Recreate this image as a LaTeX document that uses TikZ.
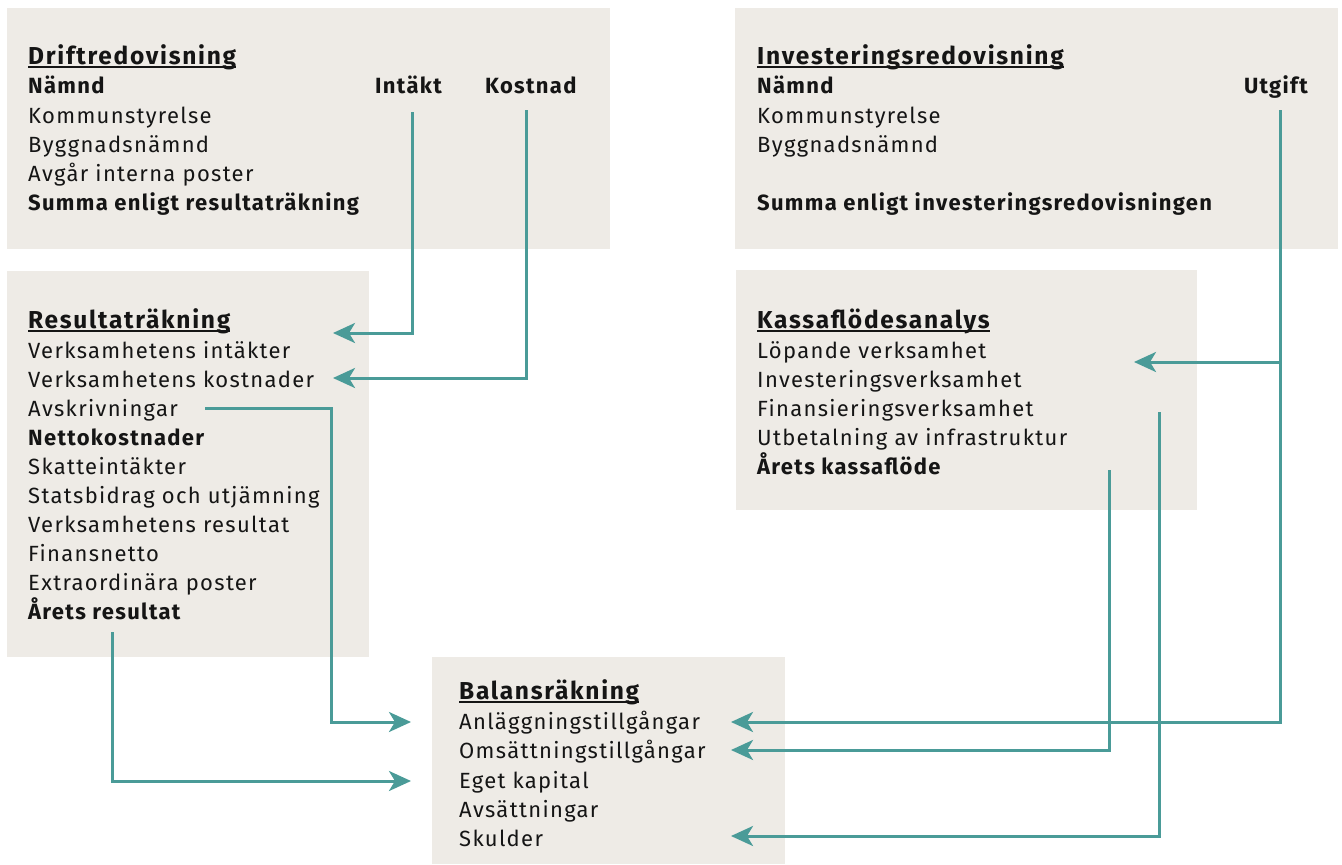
\documentclass[tikz,border=0pt]{standalone}
\usepackage{fontspec}
\setmainfont{Fira Sans}[LetterSpace=6]
\usetikzlibrary{arrows.meta}
\definecolor{boxbg}{HTML}{EEEBE6}
\definecolor{tealline}{HTML}{4A9B98}
\definecolor{ink}{HTML}{151515}
\tikzset{
  panel/.style={fill=boxbg, draw=none},
  row/.style={anchor=base west, inner sep=0pt, text=ink, font=\fontsize{22}{26}\selectfont},
  brow/.style={row, font=\fontsize{22}{26}\selectfont\bfseries},
  ttl/.style={row, font=\fontsize{24.5}{28}\selectfont\bfseries\addfontfeature{LetterSpace=7}},
  uline/.style={draw=ink, line width=2pt},
  conn/.style={draw=tealline, line width=3pt, -{Stealth[length=22pt,width=20pt,inset=6pt]}}
}
\begin{document}
\begin{tikzpicture}[x=1pt,y=-1pt]
\useasboundingbox (0,0) rectangle (1342,865);
% panels
\fill[panel] (7,8) rectangle (610,249);
\fill[panel] (735,8) rectangle (1338,249);
\fill[panel] (7,271) rectangle (369,657);
\fill[panel] (736,270) rectangle (1197,510);
\fill[panel] (432,657) rectangle (785,864);

% Driftredovisning
\node[ttl] (dT) at (28,64) {Driftredovisning};
\draw[uline] ([yshift=-3pt]dT.base west) -- ([yshift=-3pt]dT.base east);
\node[brow] (dNamnd) at (28,93) {Nämnd};
\node[brow] (dIntakt) at (375,93) {Intäkt};
\node[brow] (dKostnad) at (485,93) {Kostnad};
\node[row] (dKs) at (28,123) {Kommunstyrelse};
\node[row] (dBn) at (28,152) {Byggnadsnämnd};
\node[row] (dAi) at (28,181) {Avgår interna poster};
\node[brow] (dSum) at (28,210) {Summa enligt resultaträkning};

% Investeringsredovisning
\node[ttl] (iT) at (757,64) {Investeringsredovisning};
\draw[uline] ([yshift=-3pt]iT.base west) -- ([yshift=-3pt]iT.base east);
\node[brow] (iNamnd) at (757,93) {Nämnd};
\node[brow, anchor=base east] (iUtgift) at (1308,93) {Utgift};
\node[row] (iKs) at (757,123) {Kommunstyrelse};
\node[row] (iBn) at (757,152) {Byggnadsnämnd};
\node[brow] (iSum) at (757,210) {Summa enligt investeringsredovisningen};

% Resultaträkning
\node[ttl] (rT) at (28,328) {Resultaträkning};
\draw[uline] ([yshift=-3pt]rT.base west) -- ([yshift=-3pt]rT.base east);
\node[row] (rInt) at (28,358) {Verksamhetens intäkter};
\node[row] (rKost) at (28,387) {Verksamhetens kostnader};
\node[row] (rAvs) at (28,416) {Avskrivningar};
\node[brow] (rNetto) at (28,445) {Nettokostnader};
\node[row] (rSkatt) at (28,474) {Skatteintäkter};
\node[row] (rStat) at (28,503) {Statsbidrag och utjämning};
\node[row] (rVres) at (28,532) {Verksamhetens resultat};
\node[row] (rFin) at (28,561) {Finansnetto};
\node[row] (rExtra) at (28,590) {Extraordinära poster};
\node[brow] (rAret) at (28,619) {Årets resultat};

% Kassaflödesanalys
\node[ttl] (kT) at (757,328) {Kassaflödesanalys};
\draw[uline] ([yshift=-3pt]kT.base west) -- ([yshift=-3pt]kT.base east);
\node[row] (kLop) at (757,358) {Löpande verksamhet};
\node[row] (kInv) at (757,387) {Investeringsverksamhet};
\node[row] (kFin) at (757,416) {Finansieringsverksamhet};
\node[row] (kUtb) at (757,445) {Utbetalning av infrastruktur};
\node[brow] (kAret) at (757,474) {Årets kassaflöde};

% Balansräkning
\node[ttl] (bT) at (459,699) {Balansräkning};
\draw[uline] ([yshift=-3pt]bT.base west) -- ([yshift=-3pt]bT.base east);
\node[row] (bAnl) at (459,729) {Anläggningstillgångar};
\node[row] (bOms) at (459,758) {Omsättningstillgångar};
\node[row] (bEget) at (459,788) {Eget kapital};
\node[row] (bAvs) at (459,817) {Avsättningar};
\node[row] (bSkuld) at (459,846) {Skulder};

% connector endpoints
\coordinate (sInt) at (412,112);
\coordinate (tInt) at (333,333);
\coordinate (sKost) at (526,110);
\coordinate (tKost) at (333,378);
\coordinate (sAvs) at (205,408);
\coordinate (kAvs) at (331,600);
\coordinate (tAnlL) at (411,722);
\coordinate (sAret) at (112,632);
\coordinate (tEgetL) at (411,781);
\coordinate (sUtg) at (1280,110);
\coordinate (jUtg) at (1280,362);
\coordinate (tLop) at (1134,362);
\coordinate (tAnlR) at (731,722);
\coordinate (sKAret) at (1109,470);
\coordinate (tOmsR) at (731,750);
\coordinate (sKFin) at (1159,412);
\coordinate (tSkuldR) at (731,836);

% connectors
\draw[conn] (sInt) |- (tInt);
\draw[conn] (sKost) |- (tKost);
\draw[conn] (sAvs) -| (kAvs) |- (tAnlL);
\draw[conn] (sAret) |- (tEgetL);
\draw[conn] (sUtg) |- (tAnlR);
\draw[conn] (jUtg) -- (tLop);
\draw[conn] (sKAret) |- (tOmsR);
\draw[conn] (sKFin) |- (tSkuldR);
\end{tikzpicture}
\end{document}
